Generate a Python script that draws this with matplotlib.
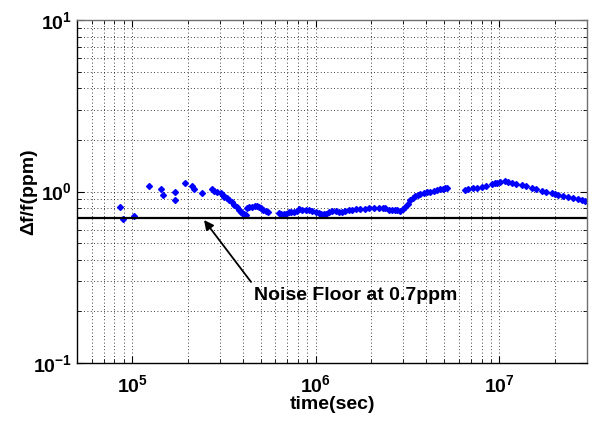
import numpy as np
import matplotlib
matplotlib.use("Agg")
import matplotlib.pyplot as plt
from matplotlib.ticker import LogLocator, NullFormatter

plt.rcParams['font.family'] = ['Liberation Sans', 'DejaVu Sans']
plt.rcParams['font.weight'] = 'bold'
plt.rcParams['mathtext.fontset'] = 'custom'
plt.rcParams['mathtext.rm'] = 'Liberation Sans:bold'
plt.rcParams['mathtext.it'] = 'Liberation Sans:bold'
plt.rcParams['mathtext.bf'] = 'Liberation Sans:bold'

# time (sec) and frequency deviation (ppm)
time_sec = [
    # early sparse points
    8.58e4, 8.86e4, 1.016e5, 1.226e5, 1.432e5, 1.469e5, 1.706e5, 1.719e5,
    1.934e5, 2.127e5, 2.181e5, 2.411e5, 2.732e5, 2.78e5,
    # falling part
    2.897e5, 3.034e5, 3.103e5, 3.162e5, 3.263e5, 3.367e5, 3.474e5, 3.584e5,
    3.698e5, 3.815e5, 3.912e5, 3.976e5, 4.062e5, 4.150e5,
    # small bump
    4.232e5, 4.350e5, 4.506e5, 4.661e5, 4.797e5, 4.900e5, 5.006e5, 5.152e5,
    5.329e5, 5.506e5,
    # flat part
    6.29e5, 6.494e5, 6.700e5, 6.913e5, 7.133e5, 7.360e5, 7.593e5, 7.915e5,
    8.085e5, 8.426e5, 8.790e5, 9.162e5, 9.548e5, 9.963e5, 1.038e6, 1.071e6,
    1.105e6, 1.140e6, 1.177e6, 1.227e6, 1.280e6, 1.334e6, 1.390e6, 1.450e6,
    1.511e6, 1.575e6, 1.660e6, 1.750e6, 1.847e6, 1.941e6, 2.067e6, 2.200e6,
    2.313e6, 2.392e6,
    # step up
    2.493e6, 2.598e6, 2.712e6, 2.766e6, 2.886e6, 2.970e6, 3.072e6, 3.162e6,
    3.271e6, 3.367e6, 3.483e6, 3.584e6, 3.707e6, 3.864e6, 4.027e6, 4.202e6,
    4.379e6, 4.563e6, 4.762e6, 4.901e6, 5.070e6, 5.172e6,
    # rising to peak
    6.511e6, 6.785e6, 7.223e6, 7.593e6, 8.014e6, 8.498e6, 9.083e6, 9.476e6,
    9.752e6, 1.009e7,
    # decay
    1.074e7, 1.119e7, 1.166e7, 1.237e7, 1.322e7, 1.402e7, 1.498e7, 1.589e7,
    1.698e7, 1.801e7, 1.924e7, 2.016e7, 2.093e7, 2.228e7, 2.371e7, 2.525e7,
    2.687e7, 2.808e7, 2.923e7,
]
dfoverf = [
    0.815, 0.69, 0.72, 1.077, 1.03, 0.958, 0.896, 0.993,
    1.116, 1.077, 1.034, 0.984, 1.03, 1.007,
    1.0, 0.976, 0.954, 0.933, 0.913, 0.892, 0.863, 0.834,
    0.807, 0.780, 0.760, 0.746, 0.739, 0.729,
    0.798, 0.807, 0.815, 0.821, 0.823, 0.812, 0.798, 0.785,
    0.770, 0.756,
    0.746, 0.739, 0.736, 0.744, 0.756, 0.756, 0.756, 0.773,
    0.788, 0.783, 0.780, 0.775, 0.770, 0.760, 0.746, 0.741,
    0.739, 0.744, 0.756, 0.770, 0.765, 0.756, 0.762, 0.770,
    0.775, 0.780, 0.788, 0.794, 0.796, 0.798, 0.801, 0.804,
    0.801, 0.798,
    0.780, 0.778, 0.777, 0.782, 0.773, 0.791, 0.815, 0.851,
    0.892, 0.919, 0.941, 0.954, 0.967, 0.980, 0.989, 1.0,
    1.011, 1.020, 1.030, 1.038, 1.044, 1.048,
    1.020, 1.030, 1.044, 1.055, 1.067, 1.084, 1.106, 1.116,
    1.128, 1.141,
    1.151, 1.139, 1.126, 1.109, 1.091, 1.072, 1.052, 1.031,
    1.011, 0.993, 0.976, 0.963, 0.954, 0.939, 0.925, 0.913,
    0.901, 0.890, 0.880,
]
noise_floor = 0.7
note = 'Noise Floor at 0.7ppm'

fig = plt.figure(figsize=(5.98, 4.23), dpi=100)
ax = fig.add_axes([0.1288, 0.1418, 0.8528, 0.8109])

ax.plot(time_sec, dfoverf, ls='', marker='D', ms=3.0, color='#0000ff', mec='#0000ff')
ax.axhline(noise_floor, color='black', lw=1.6)

ax.set_xscale('log')
ax.set_yscale('log')
ax.set_xlim(5e4, 3e7)
ax.set_ylim(0.1, 10)

ax.xaxis.set_major_locator(LogLocator(base=10, numticks=10))
ax.yaxis.set_major_locator(LogLocator(base=10, numticks=10))
ax.xaxis.set_minor_locator(LogLocator(base=10, subs=np.arange(2, 10), numticks=20))
ax.yaxis.set_minor_locator(LogLocator(base=10, subs=np.arange(2, 10), numticks=20))
ax.xaxis.set_minor_formatter(NullFormatter())
ax.yaxis.set_minor_formatter(NullFormatter())

ax.grid(True, which='both', color='black', ls=(0, (1, 3)), lw=0.6)
ax.tick_params(which='both', direction='in', top=True, right=True, labelsize=14)
ax.tick_params(which='major', length=5)
ax.tick_params(which='minor', length=3)
ax.tick_params(axis='x', pad=8)
for side, s in ax.spines.items():
    s.set_linewidth(1.0)
    if side in ('top', 'right'):
        s.set_color('#707070')

ax.set_xlabel('time(sec)', fontsize=14, fontweight='bold', labelpad=0)
ax.set_ylabel('Δf/f(ppm)', fontsize=14, fontweight='bold', labelpad=-3)

ax.annotate('', xy=(2.46e5, 0.682), xytext=(4.435e5, 0.297),
            arrowprops=dict(arrowstyle='-|>', color='black', lw=1.3,
                            mutation_scale=14, shrinkA=0, shrinkB=0))
ax.text(4.6e5, 0.246, note, fontsize=14, fontweight='bold', ha='left', va='center')

fig.savefig('out.png', dpi=100)
